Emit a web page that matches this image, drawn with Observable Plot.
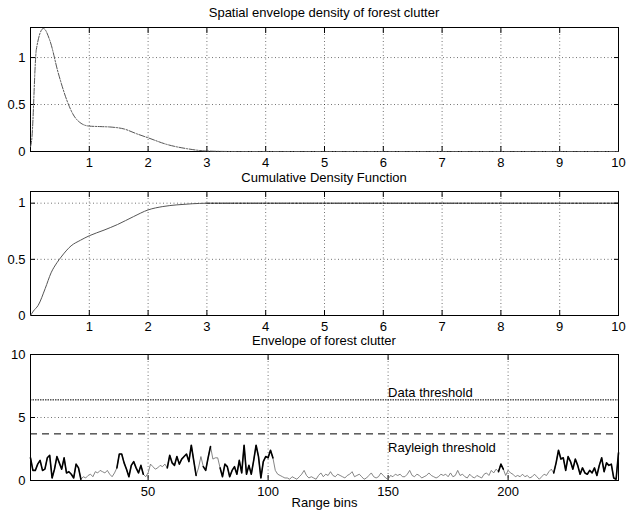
<!DOCTYPE html>
<html><head><meta charset="utf-8">
<script src="https://cdn.jsdelivr.net/npm/d3@7"></script>
<script src="https://cdn.jsdelivr.net/npm/@observablehq/plot@0.6"></script>
<style>
body{margin:0;background:#fff;}
#root{position:relative;width:626px;height:519px;font-family:"Liberation Sans",Arial,sans-serif;color:#000;}
.t{position:absolute;left:30px;width:588px;text-align:center;font-size:13px;line-height:14px;}
.p{position:absolute;left:0;}
</style></head>
<body><div id="root"></div>
<script>
// Panel 1: spatial envelope density
const densX = [0,0.02,0.1,0.22,0.33,0.47,0.64,0.72,0.86,1.0,1.2,1.37,1.59,1.8,2.0,2.32,2.66,3.0,3.5,4,5,6,7,8,9,10];
const densY = [0.05,0.12,1.09,1.31,1.18,0.84,0.51,0.40,0.30,0.27,0.265,0.26,0.24,0.19,0.146,0.075,0.03,0.005,0,0,0,0,0,0,0,0];
// Panel 2: cumulative density
const cdfX = [0,0.05,0.13,0.25,0.35,0.45,0.52,0.69,0.85,1.0,1.25,1.48,1.75,2.0,2.25,2.49,2.75,3.0,10];
const cdfY = [0,0.04,0.09,0.24,0.38,0.47,0.52,0.62,0.67,0.71,0.76,0.81,0.88,0.94,0.97,0.985,0.995,1.0,1.0];
// Panel 3: envelope per range bin (bins 1..246)
const envelope = [
1.8,0.8,0.8,1.3,1.6,0.8,0.9,1.8,2.0,0.2,
0.9,1.9,1.4,0.9,1.8,0.6,0.7,0.5,0.2,1.3,
1.0,0.1,0.3,0.2,0.4,0.5,0.3,0.7,0.6,0.8,
0.7,0.6,0.8,0.5,0.3,0.6,1.0,2.1,2.1,1.4,
0.9,0.3,1.2,1.5,1.0,0.6,1.2,0.5,0.3,0.6,
1.3,1.1,0.9,1.0,1.2,1.1,1.3,1.0,2.0,1.4,
1.2,1.9,1.3,1.7,1.9,2.1,1.5,2.8,1.6,0.4,
1.0,1.9,1.1,0.8,1.8,2.7,1.7,1.8,1.8,1.0,
0.3,1.3,1.1,0.3,0.8,1.1,0.5,1.6,0.6,2.8,
0.5,1.2,0.5,1.6,2.8,1.9,0.2,1.5,1.9,1.8,
2.4,1.8,0.8,0.5,0.4,0.3,0.2,0.2,0.1,0.3,
0.2,0.1,0.3,0.5,0.8,0.4,0.2,0.3,0.2,0.1,
0.4,0.6,0.3,0.5,0.4,0.7,0.4,0.3,0.5,0.4,
0.3,0.2,0.4,0.5,0.7,0.3,0.4,0.5,0.3,0.1,
0.2,0.4,0.6,0.3,0.2,0.3,0.6,0.4,0.2,0.1,
0.4,0.3,0.5,0.4,0.5,0.3,0.3,0.5,0.8,0.4,
0.3,0.5,0.4,0.2,0.3,0.4,0.6,0.4,0.3,0.2,
0.3,0.5,0.4,0.5,0.3,0.6,0.3,0.4,0.8,0.4,
0.5,0.3,0.2,0.5,0.3,0.2,0.4,0.3,0.2,0.5,
0.6,0.4,0.8,0.6,0.9,0.7,1.3,0.9,0.4,0.8,
0.6,0.5,0.3,0.4,0.3,0.5,0.3,0.4,0.2,0.3,
0.5,0.3,0.1,0.3,0.5,0.4,0.7,0.9,0.6,1.4,
2.4,1.7,1.8,0.8,1.9,1.5,0.9,1.7,1.2,0.5,
1.0,0.6,0.5,0.8,0.6,1.0,0.4,1.2,1.8,0.7,
1.4,1.2,1.3,0.2,0.1,2.2];
const strongRanges = [[1,22],[37,48],[58,70],[73,76],[80,102],[196,198],[219,246]];
const dataThreshold = 6.4;
const rayleighThreshold = 3.7;
const thresholdLabels = [{x:150, y:6.97, text:"Data threshold"},{x:150, y:2.58, text:"Rayleigh threshold"}];

const titles = ["Spatial envelope density of forest clutter","Cumulative Density Function","Envelope of forest clutter"];
const xTicks12 = [1,2,3,4,5,6,7,8,9,10];
const yTicks12 = [0,0.5,1];
const xTicks3 = [50,100,150,200];
const yTicks3 = [0,5,10];

const root = document.getElementById("root");
const style = {fontFamily:'"Liberation Sans",Arial,sans-serif', fontSize:"13px", color:"#000", background:"#fff", overflow:"visible"};
const grid = {stroke:"#000", strokeOpacity:0.55, strokeDasharray:"1,2.5"};

function boxAxes(xt, yt, yfmt) {
  const blank = () => "";
  return [
    Plot.gridX(xt, grid),
    Plot.gridY(yt, grid),
    Plot.axisX(xt, {anchor:"bottom", tickSize:0, tickPadding:6, fontSize:13, label:null}),
    Plot.axisY(yt, {anchor:"left", tickSize:0, tickPadding:5, fontSize:13, tickFormat: yfmt, label:null}),
    Plot.axisX(xt, {anchor:"bottom", tickSize:5, dy:-5, tickFormat: blank, label:null}),
    Plot.axisX(xt, {anchor:"top", tickSize:5, dy:5, tickFormat: blank, label:null}),
    Plot.axisY(yt, {anchor:"left", tickSize:5, dx:5, tickFormat: blank, label:null}),
    Plot.axisY(yt, {anchor:"right", tickSize:5, dx:-5, tickFormat: blank, label:null}),
    Plot.frame({stroke:"#000", strokeWidth:1})
  ];
}

function place(el, top) { el.classList.add("p"); el.style.top = top + "px"; root.appendChild(el); }
function title(txt, top) { const d = document.createElement("div"); d.className = "t"; d.style.top = top + "px"; d.textContent = txt; root.appendChild(d); }

const dens = densX.map((x,i) => ({x, y: densY[i]}));
const p1 = Plot.plot({
  width:626, height:172, marginLeft:30, marginRight:8, marginTop:27, marginBottom:21,
  style,
  x:{domain:[0,10], axis:null}, y:{domain:[0,1.32], axis:null},
  marks:[
    ...boxAxes(xTicks12, yTicks12, d => String(d)),
    Plot.line(dens, {x:"x", y:"y", stroke:"#555", strokeWidth:1, curve:"monotone-x", strokeDasharray:"6,1.5,1.5,1.5"})
  ]
});
place(p1, 0); title(titles[0], 6);

const cdf = cdfX.map((x,i) => ({x, y: cdfY[i]}));
const p2 = Plot.plot({
  width:626, height:165, marginLeft:30, marginRight:8, marginTop:19, marginBottom:22,
  style,
  x:{domain:[0,10], axis:null}, y:{domain:[0,1.104], axis:null},
  marks:[
    ...boxAxes(xTicks12, yTicks12, d => String(d)),
    Plot.line(cdf.filter(d => d.x <= 3), {x:"x", y:"y", stroke:"#555", strokeWidth:1, curve:"monotone-x"}),
    Plot.line(cdf.filter(d => d.x >= 3), {x:"x", y:"y", stroke:"#000", strokeWidth:1, strokeDasharray:"3,1"})
  ]
});
place(p2, 172); title(titles[1], 171);

const env = envelope.map((v,i) => ({bin:i+1, v}));
const isStrong = b => strongRanges.some(([a,c]) => b >= a && b <= c);
const strong = env.map(d => ({bin:d.bin, v: isStrong(d.bin) ? d.v : NaN}));
const p3 = Plot.plot({
  width:626, height:182, marginLeft:30, marginRight:8, marginTop:17, marginBottom:39,
  style,
  x:{domain:[1,246], axis:null}, y:{domain:[0,10], axis:null},
  marks:[
    ...boxAxes(xTicks3, yTicks3, d => String(d)),
    Plot.ruleY([dataThreshold], {stroke:"#000", strokeWidth:1, strokeDasharray:"1.5,1"}),
    Plot.ruleY([rayleighThreshold], {stroke:"#000", strokeWidth:1, strokeDasharray:"7,5"}),
    Plot.line(env, {x:"bin", y:"v", stroke:"#666", strokeWidth:0.8}),
    Plot.line(strong, {x:"bin", y:"v", stroke:"#000", strokeWidth:1.6}),
    Plot.text(thresholdLabels, {x:"x", y:"y", text:"text", textAnchor:"start", fontSize:13, fill:"#000"}),
    Plot.text(["Range bins"], {frameAnchor:"bottom", dy:26, text:d => d, fontSize:13, fill:"#000"})
  ]
});
place(p3, 337); title(titles[2], 334);
</script></body></html>
